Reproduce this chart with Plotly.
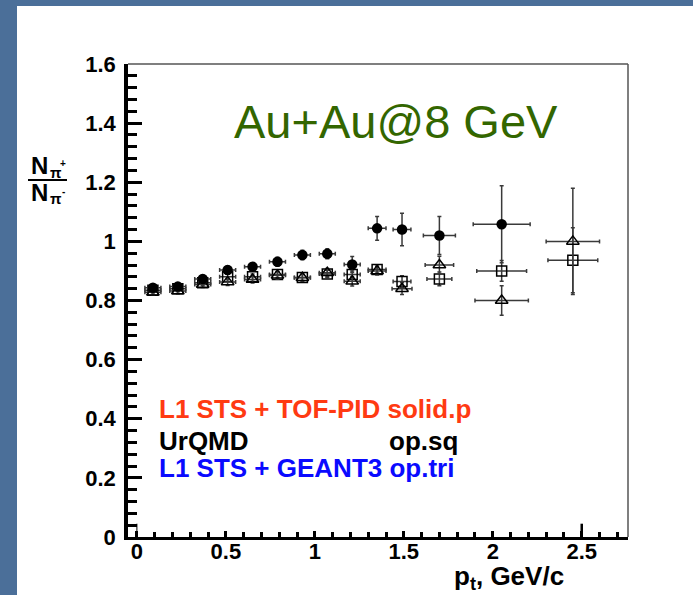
import plotly.graph_objects as go

# --- pi+/pi- ratio vs pt, Au+Au @ 8 GeV ---------------------------------
# L1 STS + TOF-PID (solid circles)
pt_tof = [0.09, 0.23, 0.37, 0.51, 0.65, 0.79, 0.93, 1.07, 1.21, 1.35, 1.49, 1.70, 2.05]
ratio_tof = [0.843, 0.847, 0.873, 0.903, 0.914, 0.931, 0.954, 0.958, 0.922, 1.044, 1.040, 1.020, 1.058]
ex_tof = [0.045, 0.045, 0.045, 0.045, 0.045, 0.045, 0.045, 0.045, 0.045, 0.05, 0.05, 0.09, 0.16]
ey_tof = [0.012, 0.012, 0.012, 0.014, 0.014, 0.015, 0.016, 0.017, 0.027, 0.040, 0.055, 0.064, 0.130]

# UrQMD (open squares)
pt_urqmd = [0.09, 0.23, 0.37, 0.51, 0.65, 0.79, 0.93, 1.07, 1.21, 1.35, 1.49, 1.70, 2.05, 2.45]
ratio_urqmd = [0.835, 0.840, 0.860, 0.880, 0.880, 0.888, 0.878, 0.890, 0.888, 0.905, 0.864, 0.873, 0.900, 0.936]
ex_urqmd = [0.045, 0.045, 0.045, 0.045, 0.045, 0.045, 0.045, 0.045, 0.045, 0.05, 0.05, 0.07, 0.14, 0.14]
ey_urqmd = [0.010, 0.010, 0.010, 0.010, 0.010, 0.010, 0.010, 0.012, 0.012, 0.012, 0.020, 0.023, 0.035, 0.110]

# L1 STS + GEANT3 (open triangles)
pt_geant = [0.09, 0.23, 0.37, 0.51, 0.65, 0.79, 0.93, 1.07, 1.21, 1.35, 1.49, 1.70, 2.05, 2.45]
ratio_geant = [0.828, 0.832, 0.854, 0.863, 0.871, 0.885, 0.877, 0.894, 0.865, 0.900, 0.840, 0.920, 0.800, 1.000]
ex_geant = [0.045, 0.045, 0.045, 0.045, 0.045, 0.045, 0.045, 0.045, 0.045, 0.05, 0.056, 0.08, 0.15, 0.15]
ey_geant = [0.010, 0.010, 0.010, 0.012, 0.012, 0.012, 0.012, 0.014, 0.016, 0.014, 0.020, 0.030, 0.050, 0.180]

x_ticks = [0, 0.5, 1, 1.5, 2, 2.5]
y_ticks = [0, 0.2, 0.4, 0.6, 0.8, 1, 1.2, 1.4, 1.6]

# --- page geometry ----------------------------------------------------
W, H = 693, 595
L, R, T, B = 128, 628, 64, 537
PW, PH = R - L, B - T


def px(x):
    return (x - L) / PW


def py(y):
    return (B - y) / PH


BOLD = dict(family="Arial, Liberation Sans, sans-serif", color="black", weight="bold")
ERR = dict(color="#3a3a3a", thickness=1.5, width=2)

fig = go.Figure()

fig.add_trace(go.Scatter(
    x=pt_urqmd, y=ratio_urqmd, mode="markers",
    marker=dict(symbol="square-open", size=10, color="black", line=dict(width=1.5)),
    error_x=dict(type="data", array=ex_urqmd, **ERR),
    error_y=dict(type="data", array=ey_urqmd, **ERR),
    name="UrQMD",
))
fig.add_trace(go.Scatter(
    x=pt_geant, y=ratio_geant, mode="markers",
    marker=dict(symbol="triangle-up-open", size=11, color="black", line=dict(width=1.5)),
    error_x=dict(type="data", array=ex_geant, **ERR),
    error_y=dict(type="data", array=ey_geant, **ERR),
    name="L1 STS + GEANT3",
))
fig.add_trace(go.Scatter(
    x=pt_tof, y=ratio_tof, mode="markers",
    marker=dict(symbol="circle", size=10.5, color="black"),
    error_x=dict(type="data", array=ex_tof, **ERR),
    error_y=dict(type="data", array=ey_tof, **ERR),
    name="L1 STS + TOF-PID",
))

shapes = [
    # slide background strips
    dict(type="rect", xref="paper", yref="paper", x0=px(0), x1=px(17), y0=py(H), y1=py(0),
         fillcolor="#4b6f99", line=dict(width=0), layer="below"),
    dict(type="rect", xref="paper", yref="paper", x0=px(0), x1=px(W), y0=py(6), y1=py(0),
         fillcolor="#4b6f99", line=dict(width=0), layer="below"),
    # thin top / right frame
    dict(type="line", xref="paper", yref="paper", x0=0, x1=1, y0=1, y1=1,
         line=dict(color="#555", width=1.5)),
    dict(type="line", xref="paper", yref="paper", x0=1, x1=1, y0=0, y1=1,
         line=dict(color="#555", width=1.5)),
    # fraction bar of the y title
    dict(type="line", xref="paper", yref="paper", x0=px(28), x1=px(67), y0=py(180), y1=py(180),
         line=dict(color="black", width=2)),
    # longer ticks at the axis ends
    dict(type="line", xref="x", yref="y", x0=0, x1=0, y0=0, y1=0.045,
         line=dict(color="black", width=1)),
    dict(type="line", xref="x", yref="y", x0=2.5, x1=2.5, y0=0, y1=0.045,
         line=dict(color="black", width=2.5)),
]

annotations = [
    dict(text="Au+Au@8 GeV", x=px(396), y=py(121), xref="paper", yref="paper",
         showarrow=False, xanchor="center", yanchor="middle",
         font=dict(family="Arial, Liberation Sans, sans-serif", size=47, color="#336600")),
    dict(text="L1 STS + TOF-PID solid.p", x=px(157), y=py(409), xref="paper", yref="paper",
         showarrow=False, xanchor="left", yanchor="middle",
         font=dict(BOLD, size=26, color="#ff3a12")),
    dict(text="UrQMD", x=px(157), y=py(441), xref="paper", yref="paper",
         showarrow=False, xanchor="left", yanchor="middle", font=dict(BOLD, size=26)),
    dict(text="op.sq", x=px(387), y=py(441), xref="paper", yref="paper",
         showarrow=False, xanchor="left", yanchor="middle", font=dict(BOLD, size=26)),
    dict(text="L1 STS + GEANT3 op.tri", x=px(157), y=py(468), xref="paper", yref="paper",
         showarrow=False, xanchor="left", yanchor="middle",
         font=dict(BOLD, size=26, color="#0a0aff")),
    # y title: N_{pi+} / N_{pi-}
    dict(text="N", x=px(39), y=py(165), xref="paper", yref="paper",
         showarrow=False, xanchor="center", yanchor="middle", font=dict(BOLD, size=24)),
    dict(text="π", x=px(56), y=py(172), xref="paper", yref="paper",
         showarrow=False, xanchor="center", yanchor="middle", font=dict(BOLD, size=15)),
    dict(text="+", x=px(63), y=py(164), xref="paper", yref="paper",
         showarrow=False, xanchor="center", yanchor="middle", font=dict(BOLD, size=10)),
    dict(text="N", x=px(39), y=py(192), xref="paper", yref="paper",
         showarrow=False, xanchor="center", yanchor="middle", font=dict(BOLD, size=24)),
    dict(text="π", x=px(56), y=py(198), xref="paper", yref="paper",
         showarrow=False, xanchor="center", yanchor="middle", font=dict(BOLD, size=15)),
    dict(text="-", x=px(63), y=py(191), xref="paper", yref="paper",
         showarrow=False, xanchor="center", yanchor="middle", font=dict(BOLD, size=10)),
    # x title
    dict(text="p<sub>t</sub>, GeV/c", x=px(566), y=py(577), xref="paper", yref="paper",
         showarrow=False, xanchor="right", yanchor="middle", font=dict(BOLD, size=26)),
]

fig.update_layout(
    width=W, height=H, autosize=False,
    margin=dict(l=L, r=W - R, t=T, b=H - B, pad=0),
    paper_bgcolor="white", plot_bgcolor="white",
    showlegend=False,
    shapes=shapes, annotations=annotations,
    xaxis=dict(
        range=[-0.05, 2.76], tickvals=x_ticks, ticktext=[f"{v:g}" for v in x_ticks],
        ticks="inside", ticklen=6, tickwidth=2.5, tickcolor="black",
        minor=dict(dtick=0.1, tick0=0, ticks="inside", ticklen=5, tickwidth=2.5, tickcolor="black"),
        showline=True, linewidth=3, linecolor="black", mirror=False,
        showgrid=False, zeroline=False,
        tickfont=dict(BOLD, size=22), ticklabelstandoff=-7,
    ),
    yaxis=dict(
        range=[0, 1.6], tickvals=y_ticks, ticktext=[f"{v:g}" for v in y_ticks],
        ticks="inside", ticklen=14, tickwidth=3, tickcolor="black",
        minor=dict(dtick=0.04, tick0=0, ticks="inside", ticklen=9, tickwidth=3, tickcolor="black"),
        showline=True, linewidth=3.5, linecolor="black", mirror=False,
        showgrid=False, zeroline=False,
        tickfont=dict(BOLD, size=22), ticklabelstandoff=4,
    ),
)

fig.write_html("out.html")
